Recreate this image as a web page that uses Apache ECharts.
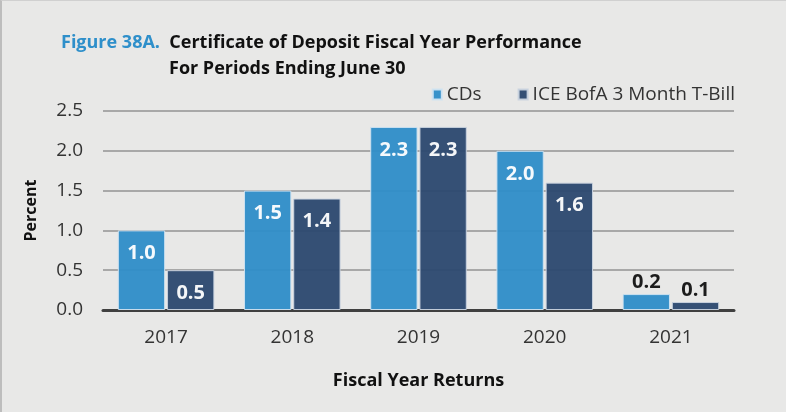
<!DOCTYPE html>
<html>
<head>
<meta charset="utf-8">
<script src="https://cdn.jsdelivr.net/npm/echarts@6/dist/echarts.min.js"></script>
<style>
  html, body { margin: 0; padding: 0; background: #e8e8e7; }
  #chart { width: 786px; height: 412px; box-sizing: border-box; border-left: 2px solid #bdbdbd; border-top: 1px solid #d0d0d0; }
</style>
</head>
<body>
<div id="chart"></div>
<script>
// data
var years = ["2017", "2018", "2019", "2020", "2021"];
var cdValues = [1.0, 1.5, 2.3, 2.0, 0.2];
var tbillValues = [0.5, 1.4, 2.3, 1.6, 0.1];
var seriesNames = ["CDs", "ICE BofA 3 Month T-Bill"];

var font = "'Open Sans', 'Noto Sans', sans-serif";
var colors = ["#2e8dc8", "#2b486f"];

// small values get the label above the bar in black
function buildData(arr) {
  return arr.map(function (v) {
    if (v < 0.5) {
      return { value: v, label: { position: "top", distance: 2, color: "#111" } };
    }
    return v;
  });
}

var chart = echarts.init(document.getElementById("chart"));
chart.setOption({
  backgroundColor: "#e8e8e7",
  textStyle: { fontFamily: font },
  title: {
    text: "{fig|Figure 38A.}  {t|Certificate of Deposit Fiscal Year Performance}\n{pad|}{t|For Periods Ending June 30}",
    left: 54,
    top: 24,
    textStyle: {
      rich: {
        fig: { color: "#2e8fca", fontSize: 18, fontWeight: "bold", fontFamily: font, lineHeight: 26 },
        t: { color: "#111", fontSize: 18, fontWeight: "bold", fontFamily: font, lineHeight: 26 },
        pad: { width: 108 }
      }
    }
  },
  legend: {
    data: seriesNames,
    top: 79,
    right: 46,
    itemWidth: 9,
    itemHeight: 10,
    itemGap: 36,
    icon: "rect",
    textStyle: { fontSize: 19, color: "#333", fontFamily: font, padding: [0, 0, 0, 0] }
  },
  grid: {
    left: 101,
    right: 52,
    top: 110,
    bottom: 102,
    containLabel: false
  },
  xAxis: {
    type: "category",
    data: years,
    name: "Fiscal Year Returns",
    nameLocation: "middle",
    nameGap: 62,
    nameTextStyle: { fontSize: 18, fontWeight: "bold", color: "#111" },
    axisTick: { show: false },
    axisLine: { lineStyle: { color: "#404040", width: 3 } },
    axisLabel: { fontSize: 19, color: "#333", margin: 18 }
  },
  yAxis: {
    type: "value",
    min: 0,
    max: 2.5,
    interval: 0.5,
    name: "Percent",
    nameLocation: "middle",
    nameGap: 64,
    nameTextStyle: { fontSize: 16, fontWeight: "bold", color: "#111" },
    axisLine: { show: false },
    axisTick: { show: false },
    axisLabel: {
      fontSize: 19,
      color: "#333",
      margin: 20,
      formatter: function (v) { return v.toFixed(1); }
    },
    splitLine: { lineStyle: { color: "#a8a8a8", width: 2 } }
  },
  series: [
    {
      name: seriesNames[0],
      type: "bar",
      data: buildData(cdValues),
      barWidth: "37.5%",
      barGap: "4%",
      itemStyle: { color: colors[0], borderColor: "#cfe3f1", borderWidth: 1, opacity: 0.95 },
      label: {
        show: true,
        position: "insideTop",
        distance: 13,
        color: "#fff",
        fontSize: 20,
        fontWeight: "bold",
        formatter: function (p) { return p.value.toFixed(1); }
      }
    },
    {
      name: seriesNames[1],
      type: "bar",
      data: buildData(tbillValues),
      barWidth: "37.5%",
      itemStyle: { color: colors[1], borderColor: "#c9d3df", borderWidth: 1, opacity: 0.95 },
      label: {
        show: true,
        position: "insideTop",
        distance: 13,
        color: "#fff",
        fontSize: 20,
        fontWeight: "bold",
        formatter: function (p) { return p.value.toFixed(1); }
      }
    }
  ]
});
</script>
</body>
</html>
